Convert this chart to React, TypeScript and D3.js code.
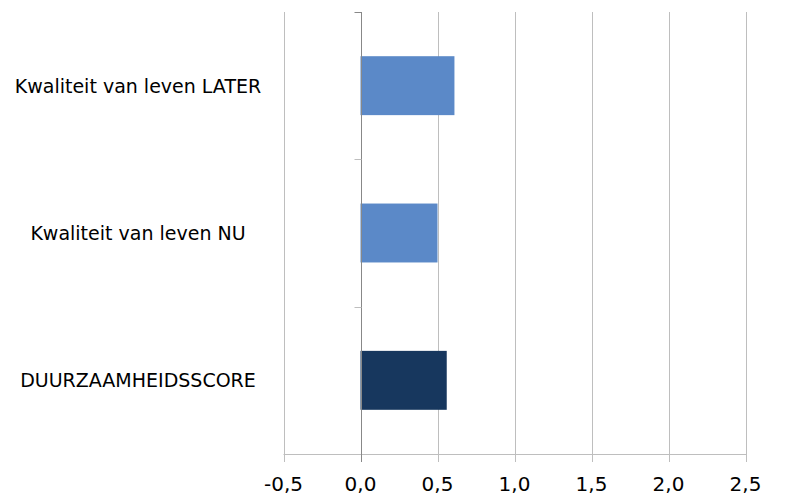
import React, { useEffect, useRef } from 'react';
import * as d3 from 'd3';

const categories = ['Kwaliteit van leven LATER', 'Kwaliteit van leven NU', 'DUURZAAMHEIDSSCORE'];
const values = [0.61, 0.5, 0.56];
const barColors = ['#5B89C8', '#5B89C8', '#17375E'];
const xTicks = [-0.5, 0, 0.5, 1, 1.5, 2, 2.5];

const App: React.FC = () => {
  const ref = useRef<SVGSVGElement>(null);

  useEffect(() => {
    const svg = d3.select(ref.current);
    svg.selectAll('*').remove();

    const left = 283.5;
    const right = 745.5;
    const top = 12;
    const bottom = 454;

    const x = d3.scaleLinear().domain([-0.5, 2.5]).range([left, right]);
    const y = d3.scaleBand().domain(categories).range([top, bottom]).paddingInner(0.6).paddingOuter(0.3);
    const yOuter = d3.scaleBand().domain(categories).range([top, bottom]);

    // vertical gridlines (extend a bit below the axis as ticks)
    svg.append('g')
      .selectAll('line')
      .data(xTicks.filter(d => d !== 0))
      .enter()
      .append('line')
      .attr('x1', d => Math.round(x(d)) + 0.5)
      .attr('x2', d => Math.round(x(d)) + 0.5)
      .attr('y1', top)
      .attr('y2', bottom + 8)
      .attr('stroke', '#BEBEBE')
      .attr('stroke-width', 1);

    // horizontal axis line
    svg.append('line')
      .attr('x1', left)
      .attr('x2', right + 1)
      .attr('y1', bottom + 0.5)
      .attr('y2', bottom + 0.5)
      .attr('stroke', '#BEBEBE');

    // bars
    svg.append('g')
      .selectAll('rect')
      .data(values)
      .enter()
      .append('rect')
      .attr('x', x(0))
      .attr('y', (d, i) => y(categories[i]) as number)
      .attr('width', d => x(d) - x(0))
      .attr('height', y.bandwidth())
      .attr('fill', (d, i) => barColors[i]);

    // zero axis line with category ticks
    const x0 = Math.round(x(0)) + 0.5;
    svg.append('line')
      .attr('x1', x0).attr('x2', x0)
      .attr('y1', top).attr('y2', bottom + 8)
      .attr('stroke', '#888888');
    const bounds = categories.map(c => yOuter(c) as number);
    svg.append('g')
      .selectAll('line')
      .data(bounds)
      .enter()
      .append('line')
      .attr('x1', x0 - 7).attr('x2', x0)
      .attr('y1', d => Math.round(d) + 0.5)
      .attr('y2', d => Math.round(d) + 0.5)
      .attr('stroke', (d, i) => (i === 0 ? '#888888' : '#BEBEBE'));

    // x tick labels
    svg.append('g')
      .selectAll('text')
      .data(xTicks)
      .enter()
      .append('text')
      .attr('x', d => x(d))
      .attr('y', 491)
      .attr('text-anchor', 'middle')
      .attr('font-family', 'DejaVu Sans')
      .attr('font-size', 20)
      .attr('fill', '#000')
      .text(d => d3.format('.1f')(d).replace('.', ',').replace('−', '-'));

    // category labels
    svg.append('g')
      .selectAll('text')
      .data(categories)
      .enter()
      .append('text')
      .attr('x', 138)
      .attr('y', d => (yOuter(d) as number) + yOuter.bandwidth() / 2 + 7)
      .attr('text-anchor', 'middle')
      .attr('font-family', 'DejaVu Sans')
      .attr('font-size', 19)
      .attr('fill', '#000')
      .text(d => d);
  }, []);

  return (
    <svg ref={ref} width={798} height={500} style={{ position: 'absolute', left: 0, top: 0, background: '#fff' }} />
  );
};

export default App;
